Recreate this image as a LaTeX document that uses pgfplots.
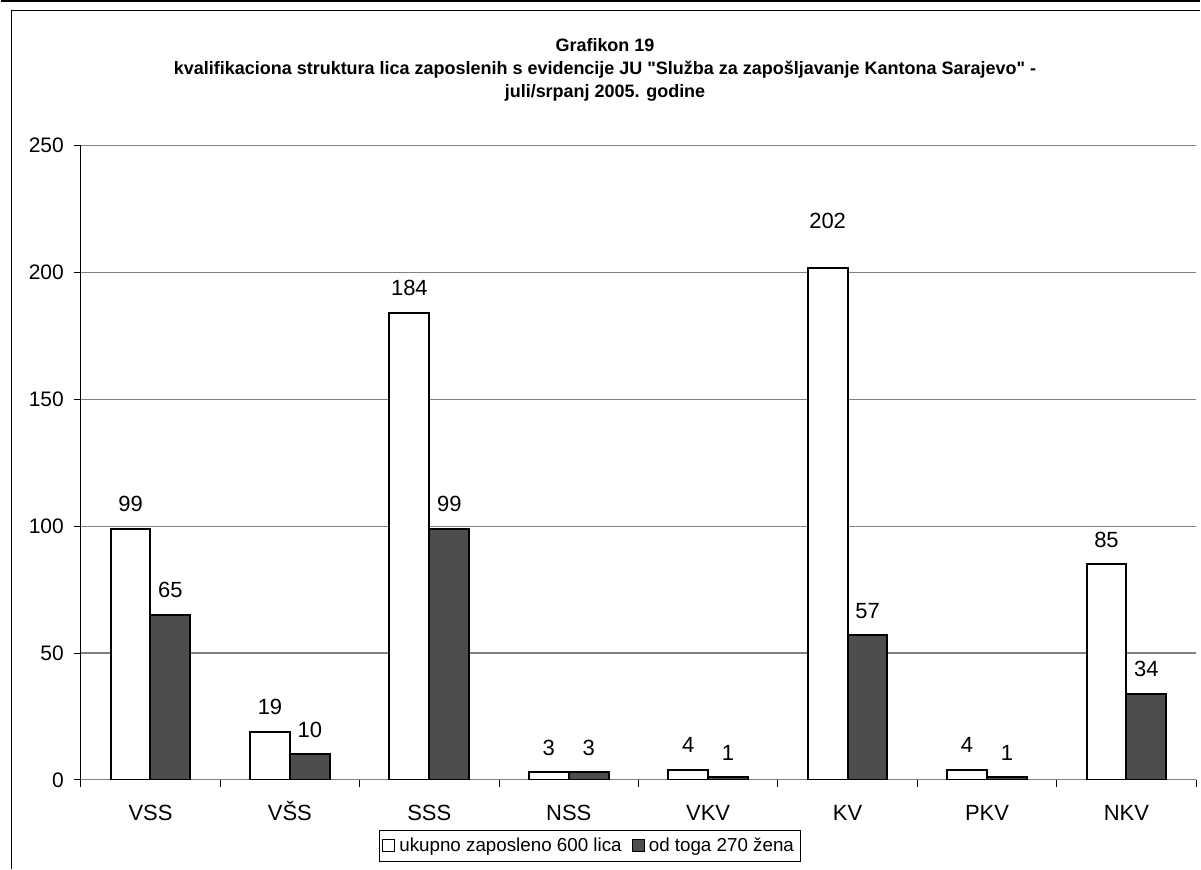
\documentclass[border=0pt]{standalone}
\usepackage{pgfplots}
\pgfplotsset{compat=1.18}
\usepackage{pgfplotstable}
\usepackage{fontspec}
\setmainfont{Liberation Sans}
\definecolor{darkbar}{HTML}{4D4D4D}
\definecolor{gridgray}{HTML}{808080}
\pgfplotstableread{
x y off
0 99 0
1 19 0
2 184 0
3 3 0
4 4 0
5 202 11
6 4 0
7 85 0
}\ukupno
\pgfplotstableread{
x y off
0 65 0
1 10 0
2 99 0
3 3 0
4 1 0
5 57 0
6 1 0
7 34 0
}\zene
\begin{document}
\begin{tikzpicture}
\path (0,0) rectangle (600.5pt,435pt);
% frame
\draw[line width=0.9pt] (0,434.3pt) -- (600.5pt,434.3pt);
\draw[line width=0.7pt] (5.3pt,0) -- (5.3pt,429.8pt) -- (600.5pt,429.8pt);
% title
\node[font=\fontsize{9}{11.5}\selectfont\bfseries, align=center] at (302.5pt,400pt)
{Grafikon 19\\kvalifikaciona struktura lica zaposlenih s evidencije JU \textquotedbl Služba za zapošljavanje Kantona Sarajevo\textquotedbl{} -\\juli/srpanj 2005. godine};
\begin{axis}[
  at={(40pt,44.5pt)}, anchor=south west,
  scale only axis, width=558.5pt, height=317.5pt,
  xmin=-0.5, xmax=7.5, ymin=0, ymax=250,
  axis x line=bottom, axis y line=left,
  x axis line style={-, draw=gridgray, line width=0.6pt},
  y axis line style={-, draw=black, line width=0.5pt},
  xtick={-0.5,0.5,...,7.5},
  x tick label as interval,
  xticklabels={VSS,VŠS,SSS,NSS,VKV,KV,PKV,NKV},
  ytick={0,50,...,250},
  tick align=outside,
  major tick length=3.5pt,
  tick style={black, line width=0.5pt},
  ymajorgrids, major grid style={gridgray, line width=0.6pt},
  /pgf/number format/assume math mode=true,
  yticklabel style={font=\fontsize{10.5}{12}\selectfont, xshift=-1.5pt},
  xticklabel style={font=\fontsize{11}{12}\selectfont, text height=8pt, text depth=0pt, yshift=-5.5pt},
  ybar, bar width=0.286,
  nodes near coords,
  visualization depends on={\thisrow{off} \as \off},
  nodes near coords style={font=\fontsize{11}{12}\selectfont, anchor=south, inner sep=0pt, yshift=8pt+\off pt},
  legend style={at={(0.4566,-0.104)}, anchor=center, draw=black, line width=0.5pt,
    font=\fontsize{9.4}{10}\selectfont, legend columns=2, inner sep=1.5pt,
    /tikz/every even column/.append style={column sep=3pt}},
  legend image code/.code={\draw[#1, line width=0.6pt] (0pt,-3pt) rectangle (6pt,3pt);},
  legend cell align=left,
]
\addplot[draw=black, fill=white, line width=1pt, bar shift=-0.143] table[x=x,y=y] {\ukupno};
\addplot[draw=black, fill=darkbar, line width=1pt, bar shift=0.143] table[x=x,y=y] {\zene};
\legend{ukupno zaposleno 600 lica, od toga 270 žena}
\end{axis}
\end{tikzpicture}
\end{document}
